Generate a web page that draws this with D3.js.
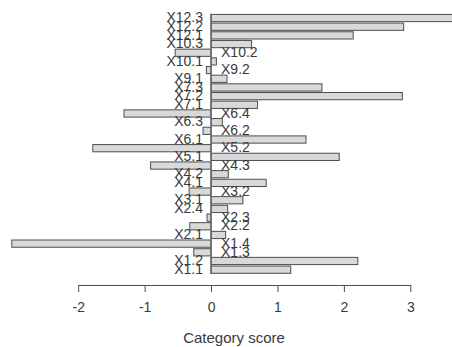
<!DOCTYPE html>
<html>
<head>
<meta charset="utf-8">
<script src="https://cdn.jsdelivr.net/npm/d3@7/dist/d3.min.js"></script>
<style>
  html, body { margin: 0; padding: 0; background: #fff; }
  svg { display: block; }
</style>
</head>
<body>
<svg id="chart"></svg>
<script>
// categories listed top to bottom, as they appear in the plot
const categories = [
  'X12.3', 'X12.2', 'X12.1', 'X10.3', 'X10.2', 'X10.1', 'X9.2', 'X9.1',
  'X7.3', 'X7.2', 'X7.1', 'X6.4', 'X6.3', 'X6.2', 'X6.1', 'X5.2', 'X5.1',
  'X4.3', 'X4.2', 'X4.1', 'X3.2', 'X3.1', 'X2.4', 'X2.3', 'X2.2', 'X2.1',
  'X1.4', 'X1.3', 'X1.2', 'X1.1'
];
const scores = [
  3.7, 2.9, 2.14, 0.61, -0.54, 0.08, -0.07, 0.24,
  1.67, 2.88, 0.7, -1.31, 0.17, -0.12, 1.43, -1.78, 1.93,
  -0.91, 0.26, 0.83, -0.33, 0.48, 0.25, -0.06, -0.32, 0.22,
  -3.0, -0.26, 2.21, 1.2
];
const tickValues = [-2, -1, 0, 1, 2, 3];
const tickLabels = ['-2', '-1', '0', '1', '2', '3'];
const axisTitle = 'Category score';

const width = 452, height = 347;
const font = '"Liberation Sans", Arial, sans-serif';
const ink = '#3a3a3a';

const svg = d3.select('#chart')
  .attr('width', width)
  .attr('height', height);

const x = d3.scaleLinear().domain([-2, 3]).range([78.2, 410.3]);
const y = d3.scaleBand()
  .domain(categories)
  .range([13.7, 274])
  .paddingInner(1 / 6)
  .paddingOuter(1 / 12);

const rows = categories.map((c, i) => ({ name: c, value: scores[i] }));

// bars
svg.append('g').selectAll('rect')
  .data(rows)
  .enter().append('rect')
    .attr('x', d => x(Math.min(0, d.value)))
    .attr('y', d => y(d.name))
    .attr('width', d => Math.abs(x(d.value) - x(0)))
    .attr('height', y.bandwidth())
    .attr('fill', '#d9d9d9')
    .attr('stroke', '#4d4d4d')
    .attr('stroke-width', 1);

// zero line
svg.append('line')
  .attr('x1', x(0)).attr('x2', x(0))
  .attr('y1', y.range()[0]).attr('y2', y.range()[1])
  .attr('stroke', '#4d4d4d')
  .attr('stroke-width', 1);

// labels sit on the opposite side of zero from the bar
svg.append('g').selectAll('text')
  .data(rows)
  .enter().append('text')
    .attr('x', d => d.value >= 0 ? x(0) - 8 : x(0) + 10)
    .attr('y', d => y(d.name) + y.bandwidth() / 2)
    .attr('dy', '0.3em')
    .attr('text-anchor', d => d.value >= 0 ? 'end' : 'start')
    .attr('font-family', font)
    .attr('font-size', 14)
    .attr('fill', ink)
    .text(d => d.name);

// x axis
const axis = svg.append('g')
  .attr('transform', 'translate(0,285)')
  .call(d3.axisBottom(x)
    .tickValues(tickValues)
    .tickFormat((d, i) => tickLabels[i])
    .tickSize(7)
    .tickSizeOuter(0)
    .tickPadding(10));

axis.select('.domain').attr('stroke', '#4d4d4d');
axis.selectAll('.tick line').attr('stroke', '#4d4d4d');
axis.selectAll('.tick text')
  .attr('font-family', font)
  .attr('font-size', 14)
  .attr('fill', ink);

svg.append('text')
  .attr('x', 234)
  .attr('y', 338)
  .attr('dy', '0.35em')
  .attr('text-anchor', 'middle')
  .attr('font-family', font)
  .attr('font-size', 15)
  .attr('fill', ink)
  .text(axisTitle);
</script>
</body>
</html>
